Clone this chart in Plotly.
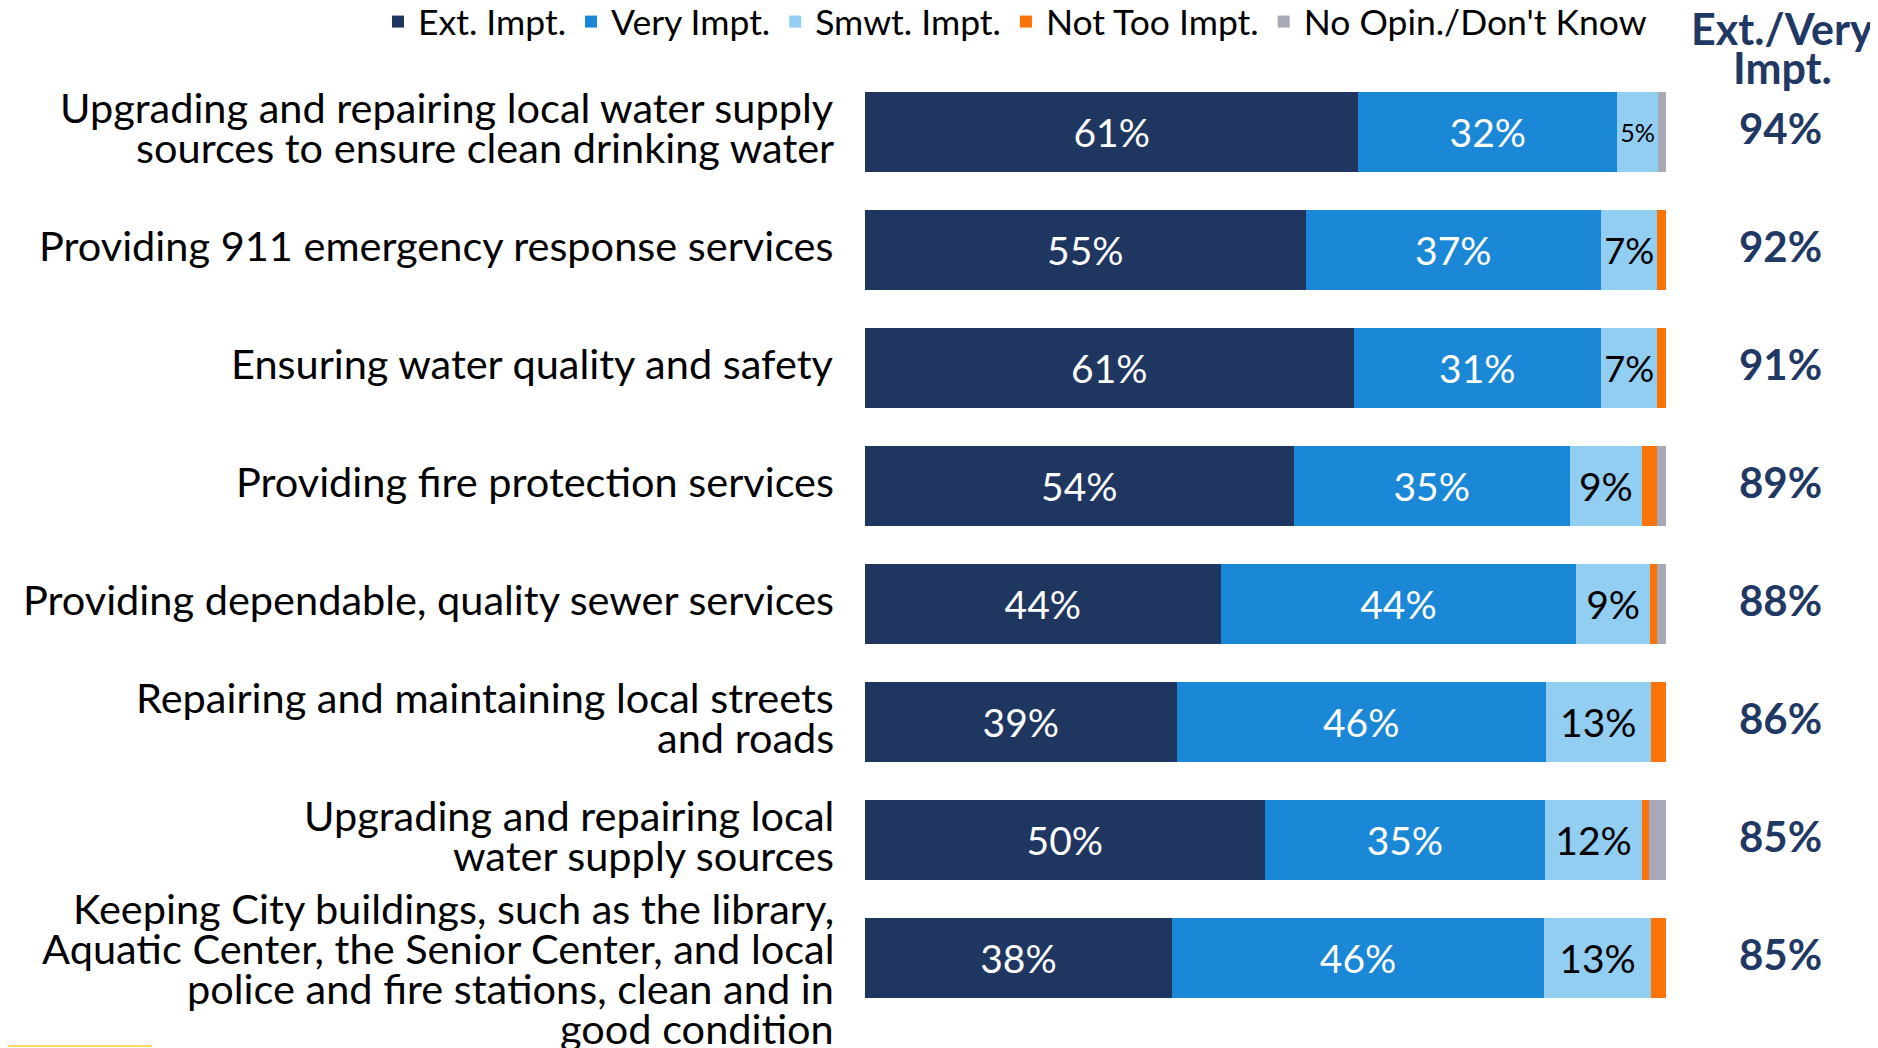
import plotly.graph_objects as go

categories = [
    "Upgrading and repairing local water supply<br>sources to ensure clean drinking water",
    "Providing 911 emergency response services",
    "Ensuring water quality and safety",
    "Providing fire protection services",
    "Providing dependable, quality sewer services",
    "Repairing and maintaining local streets<br>and roads",
    "Upgrading and repairing local<br>water supply sources",
    "Keeping City buildings, such as the library,<br>Aquatic Center, the Senior Center, and local<br>police and fire stations, clean and in<br>good condition",
]
ext_impt = [61.6, 55.0, 61.0, 53.5, 44.4, 38.9, 49.9, 38.3]
very_impt = [32.3, 36.9, 30.9, 34.5, 44.4, 46.1, 35.0, 46.5]
smwt_impt = [5.1, 7.0, 7.0, 9.0, 9.2, 13.1, 12.1, 13.3]
not_too_impt = [0.0, 1.1, 1.1, 1.9, 0.9, 2.0, 0.9, 2.0]
no_opin = [1.0, 0.0, 0.0, 1.1, 1.1, 0.0, 2.1, 0.0]

ext_labels = [61, 55, 61, 54, 44, 39, 50, 38]
very_labels = [32, 37, 31, 35, 44, 46, 35, 46]
smwt_labels = [5, 7, 7, 9, 9, 13, 12, 13]
ext_very_totals = [94, 92, 91, 89, 88, 86, 85, 85]

series_names = ["Ext. Impt.", "Very Impt.", "Smwt. Impt.", "Not Too Impt.", "No Opin./Don't Know"]
header_lines = ["Ext./Very", "Impt."]

FONT = "Lato"
NAVY = "#1F3864"
colors = ["#1E3660", "#1A88D6", "#92CDF2", "#F97306", "#A8A9B6"]

# page body has an 8px margin, so the figure is drawn 8px smaller / offset
OFF = 8
W, H = 1878 - OFF, 1048 - OFF
ML = 865 - OFF
PW = 801
MR = W - ML - PW
MT = 73 - OFF
PH = 944
MB = H - MT - PH

idx = list(range(len(categories)))

fig = go.Figure()
series_vals = [ext_impt, very_impt, smwt_impt, not_too_impt, no_opin]
series_text = [
    [f"{v}%" for v in ext_labels],
    [f"{v}%" for v in very_labels],
    [f"{v}%" for v in smwt_labels],
    None,
    None,
]
text_colors = ["white", "white", "black", "black", "black"]
for name, vals, txt, col, tcol in zip(series_names, series_vals, series_text, colors, text_colors):
    fig.add_trace(go.Bar(
        y=idx, x=vals, orientation="h", name=name,
        marker=dict(color=col, line=dict(width=0)),
        text=txt, textposition="inside" if txt else "none",
        insidetextanchor="middle", textangle=0,
        textfont=dict(family=FONT, size=39, color=tcol),
        hoverinfo="skip",
    ))

annotations = []
LINE = 40
for i, cat in enumerate(categories):
    lines = cat.split("<br>")
    n = len(lines)
    off = -5 + max(0, n - 2) * 7.5
    for j, ln in enumerate(lines):
        dy = off + (j - (n - 1) / 2) * LINE
        annotations.append(dict(
            x=-29 / PW, xref="paper", y=i, yref="y", yshift=-dy,
            text=ln, showarrow=False, xanchor="right", yanchor="middle",
            font=dict(family=FONT, size=41.5, color="black"),
        ))
    annotations.append(dict(
        x=(1780 - OFF - ML) / PW, xref="paper", y=i, yref="y", yshift=4,
        text=f"<b>{ext_very_totals[i]}%</b>", showarrow=False,
        xanchor="center", yanchor="middle",
        font=dict(family=FONT, size=42, color=NAVY),
    ))

for j, ln in enumerate(header_lines):
    ypix = 29 - OFF + j * 39
    annotations.append(dict(
        x=(1782 - OFF - ML) / PW, xref="paper", y=1 + (MT - ypix) / PH, yref="paper",
        text=f"<b>{ln}</b>", showarrow=False, xanchor="center", yanchor="middle",
        font=dict(family=FONT, size=43, color=NAVY),
    ))

fig.update_layout(
    width=W, height=H,
    barmode="stack", bargap=0.322,
    margin=dict(l=ML, r=MR, t=MT, b=MB, autoexpand=False),
    plot_bgcolor="white", paper_bgcolor="white",
    xaxis=dict(range=[0, 100], visible=False, fixedrange=True),
    yaxis=dict(range=[7.5, -0.5], visible=False, fixedrange=True),
    showlegend=True,
    legend=dict(
        orientation="h", traceorder="normal",
        x=(378 - OFF - ML) / PW, xanchor="left",
        y=1 + (MT - (22 - OFF)) / PH, yanchor="middle",
        font=dict(family=FONT, size=35.5, color="black"),
        itemwidth=30, tracegroupgap=0,
        bgcolor="rgba(0,0,0,0)",
    ),
    annotations=annotations,
    shapes=[dict(
        type="line", xref="paper", yref="paper",
        x0=-ML / PW, x1=(152 - OFF - ML) / PW,
        y0=(MT + PH - (1046 - OFF)) / PH, y1=(MT + PH - (1046 - OFF)) / PH,
        line=dict(color="#FFD966", width=2),
    )],
)

fig.write_html("out.html")
